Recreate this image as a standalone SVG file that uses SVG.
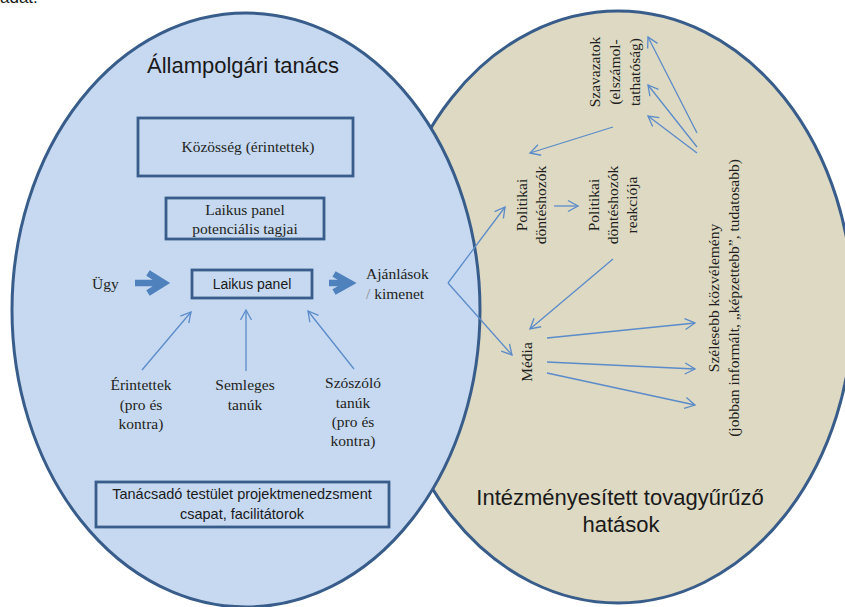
<svg xmlns="http://www.w3.org/2000/svg" width="845" height="607" viewBox="0 0 845 607">
<style>
.serif{font-family:"Liberation Serif","Times New Roman",serif;fill:#231f20;font-size:15.5px}
.sans{font-family:"Liberation Sans",Arial,sans-serif;fill:#1a1a1a}
.box{fill:none;stroke:#385d8a;stroke-width:2.8}
.thin{fill:none;stroke:#5b8bc9;stroke-width:1.3}
.thick{fill:none;stroke:#4f81bd;stroke-width:6.5;stroke-linejoin:miter;stroke-miterlimit:10}
.mid{text-anchor:middle}
</style>
<defs>
<marker id="ah" markerWidth="14" markerHeight="14" refX="11" refY="7" orient="auto" markerUnits="userSpaceOnUse">
<path d="M1,1.5 L11,7 L1,12.5" fill="none" stroke="#5b8bc9" stroke-width="1.3"/>
</marker>
</defs>
<rect width="845" height="607" fill="#ffffff"/>
<text class="sans" x="0" y="3" font-size="17">adat.</text>
<g id="council-effects">
<ellipse cx="618" cy="307" rx="235" ry="296" fill="#ddd9c3" stroke="#385d8a" stroke-width="3"/>
</g>
<g id="citizen-council">
<ellipse cx="246" cy="310" rx="234" ry="297" fill="#c6d9f1" stroke="#385d8a" stroke-width="3"/>
</g>
<text class="sans" x="243" y="73" font-size="22" text-anchor="middle">Állampolgári tanács</text>
<text class="sans" x="620" y="505" font-size="22" text-anchor="middle">Intézményesített tovagyűrűző</text>
<text class="sans" x="621" y="532" font-size="22" text-anchor="middle">hatások</text>

<g id="kozosseg">
<rect class="box" x="138" y="118" width="215" height="58"/>
<text class="serif mid" x="248" y="152" font-size="15">Közösség (érintettek)</text>
</g>
<g id="potencialis-tagok">
<rect class="box" x="166" y="198" width="158" height="41"/>
<text class="serif mid" x="245" y="215">Laikus panel</text>
<text class="serif mid" x="245" y="234">potenciális tagjai</text>
</g>
<g id="ugy">
<text class="serif" x="92" y="289" font-size="15.5">Ügy</text>
</g>
<g id="laikus-panel">
<rect class="box" x="192" y="270" width="120" height="28" stroke-width="3"/>
<text class="sans mid" x="252" y="289" font-size="14">Laikus panel</text>
</g>
<g id="ajanlasok">
<text class="serif" x="366" y="279" font-size="15.5">Ajánlások</text>
<text class="serif" x="366" y="299" font-size="15.5"><tspan fill="#8c8c8c">/</tspan> kimenet</text>
</g>
<g id="erintettek">
<text class="serif mid" x="141" y="390">Érintettek</text>
<text class="serif mid" x="141" y="410">(pro és</text>
<text class="serif mid" x="141" y="429">kontra)</text>
</g>
<g id="semleges">
<text class="serif mid" x="245" y="390">Semleges</text>
<text class="serif mid" x="245" y="410">tanúk</text>
</g>
<g id="szoszolo">
<text class="serif mid" x="353" y="388">Szószóló</text>
<text class="serif mid" x="353" y="408">tanúk</text>
<text class="serif mid" x="353" y="427">(pro és</text>
<text class="serif mid" x="353" y="446">kontra)</text>
</g>
<g id="tanacsado">
<rect class="box" x="96" y="482" width="293" height="45"/>
<text class="sans mid" x="242" y="499" font-size="14.5">Tanácsadó testület projektmenedzsment</text>
<text class="sans mid" x="242" y="519" font-size="14.5">csapat, facilitátorok</text>
</g>
<g id="szavazatok">
<text class="serif mid" font-size="15.5" transform="translate(600,72) rotate(-90)"><tspan x="0" y="0">Szavazatok</tspan><tspan x="0" y="20">(elszámol-</tspan><tspan x="0" y="40">tathatóság)</tspan></text>
</g>
<g id="politikai-donteshozok">
<text class="serif mid" font-size="15.5" transform="translate(527,205) rotate(-90)"><tspan x="0" y="0">Politikai</tspan><tspan x="0" y="19">döntéshozók</tspan></text>
</g>
<g id="donteshozok-reakcioja">
<text class="serif mid" font-size="15.5" transform="translate(599,205) rotate(-90)"><tspan x="0" y="0">Politikai</tspan><tspan x="0" y="19">döntéshozók</tspan><tspan x="0" y="38">reakciója</tspan></text>
</g>
<g id="media">
<text class="serif mid" font-size="15.5" transform="translate(532,362) rotate(-90)">Média</text>
</g>
<g id="kozvelemeny">
<text class="serif mid" font-size="15.5" transform="translate(719,298) rotate(-90)"><tspan x="0" y="0">Szélesebb közvélemény</tspan><tspan x="0" y="20">(jobban informált, „képzettebb”, tudatosabb)</tspan></text>
</g>

<g id="connectors">
<path class="thick" d="M135,283 H164 M148,273 L164,283 L148,293"/>
<path class="thick" d="M329,283 H350 M334,274 L350,283 L334,292"/>
<path class="thin" marker-end="url(#ah)" d="M142,370 L191,312"/>
<path class="thin" marker-end="url(#ah)" d="M246,371 L246,310"/>
<path class="thin" marker-end="url(#ah)" d="M354,369 L308,311"/>
<path class="thin" marker-end="url(#ah)" d="M448,283 L505,207"/>
<path class="thin" marker-end="url(#ah)" d="M448,283 L512,355"/>
<path class="thin" marker-end="url(#ah)" d="M554,206 L578,206"/>
<path class="thin" marker-end="url(#ah)" d="M613,259 L530,329"/>
<path class="thin" marker-end="url(#ah)" d="M613,127 L530,153"/>
<path class="thin" marker-end="url(#ah)" d="M697,133 L648,37"/>
<path class="thin" marker-end="url(#ah)" d="M697,147 L648,85"/>
<path class="thin" marker-end="url(#ah)" d="M697,153 L648,116"/>
<path class="thin" marker-end="url(#ah)" d="M547,338 L695,323"/>
<path class="thin" marker-end="url(#ah)" d="M547,362 L695,369"/>
<path class="thin" marker-end="url(#ah)" d="M547,373 L695,405"/>
</g>
</svg>
